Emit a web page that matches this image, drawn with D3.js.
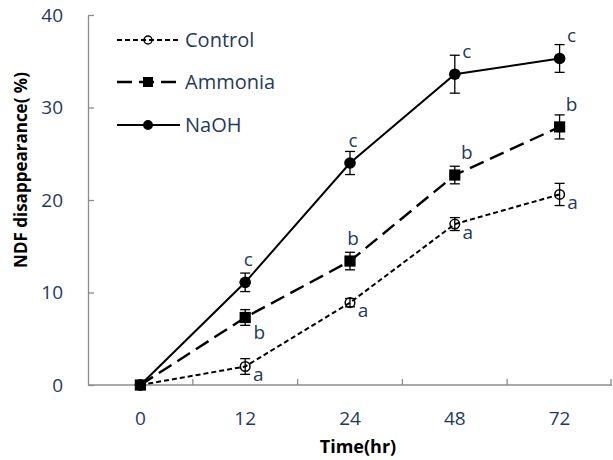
<!DOCTYPE html>
<html>
<head>
<meta charset="utf-8">
<script src="https://cdn.jsdelivr.net/npm/d3@7"></script>
<style>
  html, body { margin: 0; padding: 0; background: #fff; }
  svg { display: block; }
</style>
</head>
<body>
<div id="chart"></div>
<script>
"use strict";
// categories (hr) and series
const times = ["0", "12", "24", "48", "72"];
const controlVals = [0, 2.0, 8.9, 17.4, 20.6];
const controlErr = [0, 0.85, 0.45, 0.7, 1.2];
const ammoniaVals = [0, 7.3, 13.4, 22.7, 27.9];
const ammoniaErr = [0, 0.85, 0.95, 0.95, 1.3];
const naohVals = [0, 11.1, 24.0, 33.6, 35.3];
const naohErr = [0, 1.0, 1.25, 2.05, 1.5];
const controlLetters = ["", "a", "a", "a", "a"];
const ammoniaLetters = ["", "b", "b", "b", "b"];
const naohLetters = ["", "c", "c", "c", "c"];
const yTicks = [0, 10, 20, 30, 40];

// where each letter sits relative to its point
const controlPlace = ["", "se", "se", "se", "se"];
const ammoniaPlace = ["", "sse", "n", "ne", "ne"];
const naohPlace = ["", "n", "n", "ne", "ne"];
const placeOffset = {se: [13, 8], sse: [14, 15], n: [3, -23], ne: [12, -23]};

const width = 613, height = 460;
const marginLeft = 88, marginRight = 1, marginTop = 15, marginBottom = 75;
const navy = "#1f3a5f";
const axisGray = "#8c8c8c";
const font = "'Open Sans', 'Noto Sans', sans-serif";

const series = [
    {name: "Control", vals: controlVals, err: controlErr, letters: controlLetters, place: controlPlace,
     dash: "5,3", sw: 2, marker: "open"},
    {name: "Ammonia", vals: ammoniaVals, err: ammoniaErr, letters: ammoniaLetters, place: ammoniaPlace,
     dash: "15,7", sw: 2.4, marker: "square"},
    {name: "NaOH", vals: naohVals, err: naohErr, letters: naohLetters, place: naohPlace,
     dash: null, sw: 2, marker: "dot"}
];

const x = d3.scaleBand()
    .domain(times)
    .range([marginLeft, width - marginRight]);

const y = d3.scaleLinear()
    .domain([0, 40])
    .range([height - marginBottom, marginTop]);

const cx = t => x(t) + x.bandwidth() / 2;

const svg = d3.select("#chart").append("svg")
    .attr("width", width)
    .attr("height", height)
    .attr("viewBox", [0, 0, width, height])
    .style("font-family", font);

// y axis
svg.append("g")
    .attr("transform", `translate(${marginLeft},0)`)
    .call(d3.axisLeft(y).tickValues(yTicks).tickSizeInner(-6).tickSizeOuter(0).tickPadding(25))
    .call(g => g.select(".domain").attr("stroke", axisGray).attr("stroke-width", 1.3))
    .call(g => g.selectAll(".tick line").attr("stroke", axisGray).attr("stroke-width", 1.3))
    .call(g => g.selectAll(".tick text").attr("fill", navy).style("font-size", "19px").style("font-family", font));

// x axis: labels at band centres, ticks at band edges
const xAxis = svg.append("g")
    .attr("transform", `translate(0,${y(0)})`);
xAxis.append("line")
    .attr("x1", marginLeft).attr("x2", width - marginRight)
    .attr("stroke", axisGray).attr("stroke-width", 1.3);
xAxis.selectAll(".edge")
    .data(times.slice(1).map(t => x(t)).concat([x.range()[1] - 1]))
    .join("line")
    .attr("class", "edge")
    .attr("x1", d => d).attr("x2", d => d)
    .attr("y1", 0).attr("y2", -6)
    .attr("stroke", axisGray).attr("stroke-width", 1.3);
xAxis.selectAll(".lbl")
    .data(times)
    .join("text")
    .attr("class", "lbl")
    .attr("x", d => cx(d))
    .attr("y", 40)
    .attr("text-anchor", "middle")
    .attr("fill", navy)
    .style("font-size", "19px")
    .text(d => d);

// axis titles
svg.append("text")
    .attr("x", 358)
    .attr("y", 453)
    .attr("text-anchor", "middle")
    .style("font-size", "18px")
    .style("font-weight", "bold")
    .text("Time(hr)");

svg.append("text")
    .attr("transform", `translate(27,170) rotate(-90)`)
    .attr("text-anchor", "middle")
    .style("font-size", "17px")
    .style("font-weight", "bold")
    .text("NDF disappearance( %)");

const line = d3.line()
    .x((d, i) => cx(times[i]))
    .y(d => y(d));

function drawMarker(g, type, size) {
    if (type === "square") {
        g.append("rect")
            .attr("x", -size).attr("y", -size)
            .attr("width", size * 2).attr("height", size * 2)
            .attr("fill", "#000");
    } else if (type === "dot") {
        g.append("circle").attr("r", size).attr("fill", "#000");
    } else {
        g.append("circle").attr("r", size)
            .attr("fill", "none").attr("stroke", "#000").attr("stroke-width", 1.5);
    }
}

const sizes = {open: 4.8, square: 5.6, dot: 5.8};

series.forEach(s => {
    svg.append("path")
        .datum(s.vals)
        .attr("fill", "none")
        .attr("stroke", "#000")
        .attr("stroke-width", s.sw)
        .attr("stroke-dasharray", s.dash)
        .attr("d", line);

    // error bars
    const eb = svg.append("g").attr("stroke", "#000").attr("stroke-width", 1.3);
    s.vals.forEach((v, i) => {
        if (!s.err[i]) return;
        const px = cx(times[i]);
        eb.append("line").attr("x1", px).attr("x2", px)
            .attr("y1", y(v - s.err[i])).attr("y2", y(v + s.err[i]));
        [v - s.err[i], v + s.err[i]].forEach(e => {
            eb.append("line").attr("x1", px - 5).attr("x2", px + 5)
                .attr("y1", y(e)).attr("y2", y(e));
        });
    });

    s.vals.forEach((v, i) => {
        const g = svg.append("g").attr("transform", `translate(${cx(times[i])},${y(v)})`);
        drawMarker(g, s.marker, sizes[s.marker]);
    });

    s.vals.forEach((v, i) => {
        if (!s.letters[i]) return;
        const off = placeOffset[s.place[i]];
        svg.append("text")
            .attr("x", cx(times[i]) + off[0])
            .attr("y", y(v) + off[1])
            .attr("dy", "0.35em")
            .attr("text-anchor", "middle")
            .attr("fill", navy)
            .style("font-size", "19px")
            .text(s.letters[i]);
    });
});

// legend
const legendRows = [40, 82, 125];
const legend = svg.selectAll(".legend")
    .data(series)
    .join("g")
    .attr("class", "legend")
    .attr("transform", (d, i) => `translate(117,${legendRows[i]})`);

legend.append("line")
    .attr("x1", 0).attr("x2", 63)
    .attr("stroke", "#000")
    .attr("stroke-width", d => d.sw)
    .attr("stroke-dasharray", d => d.dash);

legend.each(function(d) {
    const g = d3.select(this).append("g").attr("transform", "translate(31,0)");
    drawMarker(g, d.marker, d.marker === "open" ? 4 : 5);
});

legend.append("text")
    .attr("x", 68)
    .attr("dy", "0.35em")
    .attr("fill", navy)
    .style("font-size", "20px")
    .text(d => d.name);
</script>
</body>
</html>
